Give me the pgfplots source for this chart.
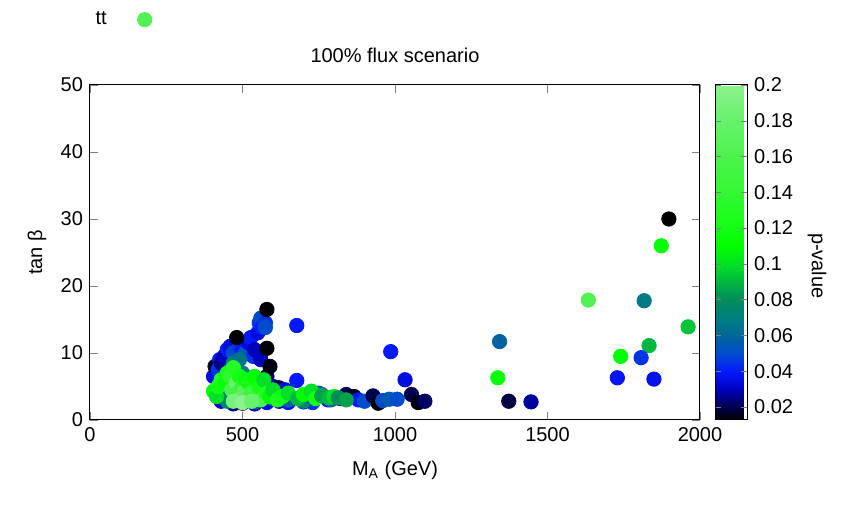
\documentclass[border=0pt]{standalone}
\usepackage{fontspec}
\setmainfont{Liberation Sans}
\usepackage{pgfplots}
\usepackage{pgfplotstable}
\pgfplotsset{compat=1.18}

% x = M_A (GeV), y = tan beta, p = p-value
\pgfplotstableread{
x y p
405 6.5 0.035
410 8.0 0.015
420 7.5 0.045
425 9.0 0.040
430 8.5 0.025
440 9.5 0.030
450 10.5 0.040
460 11.0 0.035
470 10.0 0.050
490 11.0 0.045
500 10.5 0.040
510 10.0 0.055
520 11.5 0.035
527 12.3 0.040
535 9.5 0.045
540 10.5 0.030
550 13.0 0.035
555 14.5 0.045
560 15.2 0.050
565 13.8 0.040
575 14.5 0.045
575 13.8 0.050
560 9.0 0.030
580 6.5 0.020
600 5.0 0.030
620 4.8 0.020
640 4.5 0.035
678 5.9 0.040
678 14.1 0.040
700 3.5 0.030
750 4.0 0.050
780 3.0 0.040
820 3.2 0.030
840 3.8 0.020
866 3.5 0.015
880 3.0 0.040
900 2.8 0.050
928 3.6 0.020
945 2.5 0.013
960 2.9 0.050
981 3.1 0.055
1007 3.1 0.050
986 10.2 0.040
1033 6.0 0.035
1054 3.8 0.020
1076 2.6 0.014
1098 2.8 0.022
430 2.8 0.030
470 2.4 0.025
500 2.5 0.020
540 2.4 0.030
580 2.6 0.035
620 2.8 0.030
650 2.6 0.040
700 2.7 0.035
730 2.6 0.045
440 4.0 0.070
450 3.0 0.065
460 7.5 0.060
470 8.5 0.075
490 9.0 0.065
500 7.0 0.070
450 2.8 0.075
520 3.5 0.060
540 2.7 0.060
560 3.5 0.070
600 3.2 0.065
650 3.0 0.060
700 2.8 0.075
720 3.5 0.060
760 3.8 0.065
790 3.0 0.060
481 12.3 0.013
580 16.5 0.013
580 10.7 0.013
590 8.0 0.014
405 4.3 0.110
415 3.5 0.100
420 5.0 0.120
430 6.0 0.130
440 5.5 0.115
450 7.0 0.120
460 6.5 0.140
465 4.5 0.160
470 7.8 0.130
475 3.0 0.170
480 5.5 0.180
485 4.0 0.150
490 6.5 0.120
495 3.2 0.190
500 5.0 0.140
505 4.2 0.170
510 6.0 0.115
515 3.0 0.160
520 5.5 0.120
530 4.0 0.150
540 6.5 0.110
545 3.5 0.140
555 5.0 0.120
560 3.0 0.160
570 6.0 0.100
580 4.0 0.130
590 3.5 0.110
600 4.5 0.100
615 3.0 0.130
630 3.5 0.120
650 4.0 0.100
682 3.2 0.090
700 3.8 0.110
726 4.3 0.100
740 3.2 0.120
760 3.6 0.085
784 3.3 0.090
800 3.5 0.100
814 3.3 0.080
840 3.0 0.085
470 2.8 0.190
500 2.6 0.200
530 2.8 0.180
1898 30.0 0.013
1873 26.0 0.112
1634 17.9 0.165
1817 17.8 0.068
1961 13.9 0.093
1833 11.1 0.090
1740 9.5 0.110
1807 9.3 0.045
1729 6.3 0.038
1849 6.1 0.037
1343 11.7 0.058
1337 6.3 0.115
1373 2.8 0.019
1446 2.7 0.027
}\pvtable

\definecolor{legendgreen}{RGB}{85,240,85}

\begin{document}
\begin{tikzpicture}
\useasboundingbox (-45pt,-43pt) rectangle (376.5pt,210pt);
\begin{axis}[
  scale only axis,
  width=305pt, height=167.5pt,
  xmin=0, xmax=2000, ymin=0, ymax=50,
  xtick={0,500,...,2000}, ytick={0,10,...,50},
  major tick length=4pt,
  axis line style={line width=0.5pt},
  /pgf/number format/assume math mode=true,
  /pgf/number format/1000 sep={},
  xlabel={M\textsubscript{A} (GeV)},
  ylabel={tan β},
  every axis x label/.style={at={(axis description cs:0.5,-0.149)}, anchor=center},
  every axis y label/.style={at={(axis description cs:-0.087,0.5)}, anchor=center, rotate=90},
  title={100\% flux scenario},
  title style={at={(axis description cs:0.5,1.054)}, anchor=center},
  colormap={pv}{
    rgb(12.7pt)=(0,0,0);
    rgb(20pt)=(0,0,0.3);
    rgb(30pt)=(0,0,0.75);
    rgb(40pt)=(0.02,0.1,1);
    rgb(50pt)=(0,0.3,0.8);
    rgb(60pt)=(0,0.4,0.6);
    rgb(70pt)=(0,0.5,0.5);
    rgb(80pt)=(0,0.55,0.35);
    rgb(90pt)=(0,0.72,0.25);
    rgb(100pt)=(0,0.88,0.15);
    rgb(110pt)=(0,1,0);
    rgb(120pt)=(0.08,1,0.08);
    rgb(140pt)=(0.2,0.97,0.2);
    rgb(160pt)=(0.3,0.95,0.3);
    rgb(180pt)=(0.4,0.95,0.42);
    rgb(200pt)=(0.55,0.95,0.55)
  },
  point meta min=0.0127, point meta max=0.2,
  colorbar right,
  colorbar style={
    at={(parent axis.north east)}, anchor=north west, xshift=-1pt,
    width=16pt,
    ytick={0.02,0.04,...,0.2},
    scaled y ticks=false,
    yticklabel style={/pgf/number format/fixed, /pgf/number format/precision=2,
      /pgf/number format/assume math mode=true},
    major tick length=3pt,
    ytick pos=both,
    yticklabel pos=right,
    axis line style={line width=0.5pt},
    ylabel={p-value},
    every axis y label/.style={at={(axis description cs:3.19,0.46)}, anchor=center, rotate=-90},
  },
  legend plot pos=right,
  legend style={draw=none, fill=none, at={(axis description cs:0.052,1.195)}, anchor=center},
]
\addplot[scatter, only marks, mark=*, mark size=3.6pt, scatter src=explicit,
  scatter/use mapped color={draw=mapped color, fill=mapped color}, forget plot]
  table[x=x, y=y, meta=p] {\pvtable};
\addlegendimage{only marks, mark=*, mark size=3.6pt, color=legendgreen}
\addlegendentry{\makebox[19pt][l]{tt}}
\end{axis}
\end{tikzpicture}
\end{document}
